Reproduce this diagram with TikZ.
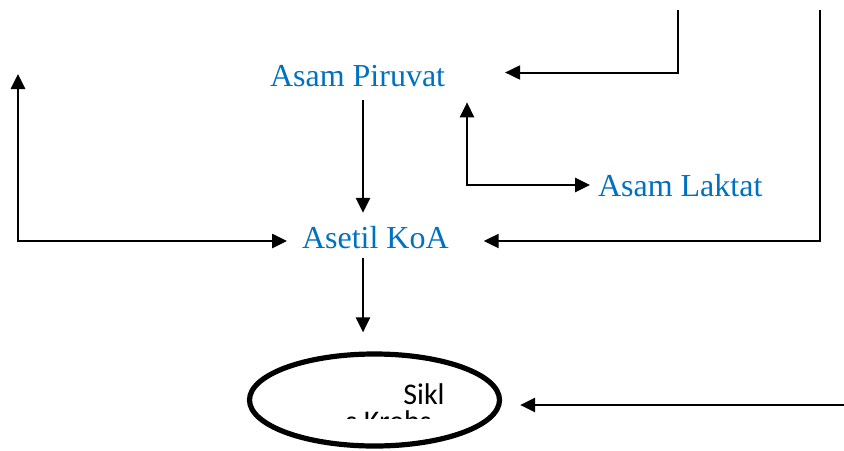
\documentclass[tikz,border=0pt]{standalone}
\usepackage{fontspec}
\setmainfont{Liberation Serif}
\newfontfamily\calibri{Carlito}
\usetikzlibrary{arrows.meta,calc,positioning,shapes.geometric}
\definecolor{senyawabiru}{HTML}{0070C0}

\begin{document}
\begin{tikzpicture}[x=0.5pt,y=-0.5pt,
      senyawa/.style={text=senyawabiru,font=\fontsize{16}{19}\selectfont,inner sep=0pt,outer sep=0pt,anchor=base west},
      siklus/.style={draw,ellipse,line width=2.6pt,minimum width=125pt,minimum height=46pt,inner sep=0pt},
      label/.style={font=\calibri\fontsize{15}{18}\selectfont,inner sep=0pt,anchor=base west},
      panah/.style={-{Triangle[length=7.5pt,width=7pt]},line width=1.3pt},
      duaarah/.style={{Triangle[length=7.5pt,width=7pt]}-{Triangle[length=7.5pt,width=7pt]},line width=1.3pt}
    ]
      \useasboundingbox (0,0) rectangle (844,450);
      \node[senyawa] (piruvat) at (270,86) {Asam Piruvat};
      \node[senyawa] (asetil) at (302,248) {Asetil KoA};
      \node[senyawa] (laktat) at (598,196) {Asam Laktat};
      \node[siklus] (krebs) at (374.5,400) {};
      \begin{scope}
        \clip (300,370) rectangle (470,418);
        \node[label] (sikl) at (403,404) {Sikl};
        \node[label] (krebsteks) at (345,431) {s Krebs};
      \end{scope}
      \coordinate (sumbu) at (363,0);
      \coordinate (kiriatas) at (18,74);
      \coordinate (kiribawah) at (18,241);
      \coordinate (belok) at (467,185);
      \coordinate (atas1) at (678,10);
      \coordinate (siku1) at (678,72.5);
      \coordinate (atas2) at (820,10);
      \coordinate (siku2) at (820,241);
      \coordinate (kanan) at (844,405);
      \draw[panah,shorten <=7pt,shorten >=6.5pt] (piruvat.south -| sumbu)--(asetil.north -| sumbu);
      \draw[panah,shorten <=5pt,shorten >=9.5pt] (asetil.south -| sumbu)--(krebs.north -| sumbu);
      \draw[duaarah,shorten >=7.5pt] (kiriatas)--(kiribawah)--(asetil.west |- kiribawah);
      \draw[duaarah,shorten <=8pt,shorten >=4pt] (piruvat.south -| belok)--(belok)--(laktat.west |- belok);
      \draw[panah,line width=1pt,shorten >=30pt] (atas1)--(siku1)--(piruvat.east |- siku1);
      \draw[panah,line width=1pt,shorten >=17.5pt] (atas2)--(siku2)--(asetil.east |- siku2);
      \draw[panah,shorten >=9pt] (kanan)--(krebs.east |- kanan);
    \end{tikzpicture}
\end{document}
